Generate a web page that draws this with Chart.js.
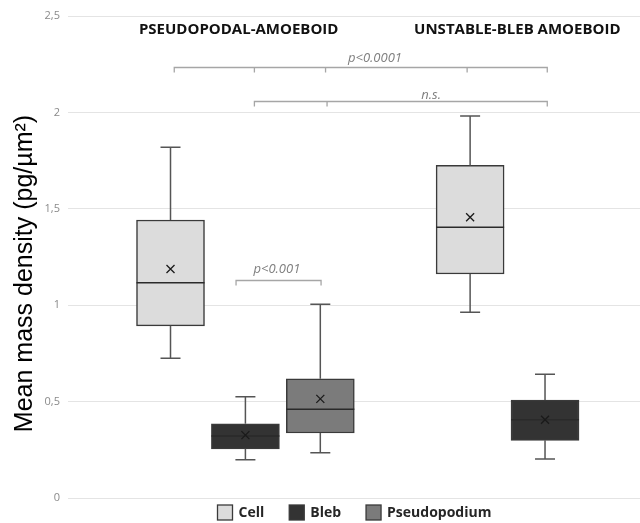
<!DOCTYPE html>
<html><head><meta charset="utf-8">
<script src="https://cdn.jsdelivr.net/npm/chart.js@4"></script>
<style>html,body{margin:0;padding:0;background:#fff}#wrap{width:640px;height:523px;position:relative}</style>
</head><body><div id="wrap"><canvas id="c"></canvas></div>
<script>
// ---- data ----
const groups = ['PSEUDOPODAL-AMOEBOID', 'UNSTABLE-BLEB AMOEBOID'];
const seriesNames = ['Cell', 'Bleb', 'Pseudopodium'];
const yTickLabels = ['0', '0,5', '1', '1,5', '2', '2,5'];
const yTitle = 'Mean mass density (pg/µm²)';
// [min, q1, median, q3, max] per group
const cellBox = [[0.725, 0.893, 1.116, 1.442, 1.819], [0.964, 1.162, 1.404, 1.725, 1.981]];
const cellMean = [1.188, 1.456];
const blebBox = [[0.198, 0.255, 0.321, 0.385, 0.525], [0.202, 0.299, 0.406, 0.508, 0.642]];
const blebMean = [0.326, 0.406];
const pseudoBox = [[0.235, 0.337, 0.460, 0.618, 1.005], null];
const pseudoMean = [0.514, null];
// significance brackets (x in slot units, y in data units)
const bracketText = ['p<0.0001', 'n.s.', 'p<0.001'];
const bracketY = [2.233, 2.057, 1.133];
const bracketFrom = [1.05, 2.12, 1.875];
const bracketTo = [6.03, 6.03, 3.01];
const bracketMid = [[2.12, 3.07, 4.96], [3.09], []];
const bracketTextX = [3.73, 4.48, 2.42];
const bracketTextY = [2.280, 2.090, 1.188];
const groupTitleX = [1.91, 5.63];
const groupTitleY = 2.427;

// ---- build ----
const SLOTS_PER_GROUP = 4;
const slot = (g, s) => g * SLOTS_PER_GROUP + s + 1;
const boxes = [cellBox, blebBox, pseudoBox];
const means = [cellMean, blebMean, pseudoMean];
const fills = ['#dcdcdc', '#333333', '#7b7b7b'];

const datasets = seriesNames.map((name, s) => ({
  label: name,
  data: groups.map((g, gi) => boxes[s][gi] ? { x: slot(gi, s), y: [boxes[s][gi][1], boxes[s][gi][3]] } : null).filter(Boolean),
  backgroundColor: fills[s],
  borderColor: '#3a3a3a',
  borderWidth: 1.5,
  borderSkipped: false,
  grouped: false,
  barThickness: 68
}));

const boxPlugin = {
  id: 'boxExtras',
  afterDatasetsDraw(chart) {
    const ctx = chart.ctx, xs = chart.scales.x, ys = chart.scales.y;
    ctx.save();
    boxes.forEach((b, s) => {
      b.forEach((v, gi) => {
        if (!v) return;
        const cx = xs.getPixelForValue(slot(gi, s));
        const half = 34, cap = 10;
        const py = k => ys.getPixelForValue(v[k]);
        ctx.strokeStyle = '#555';
        ctx.lineWidth = 1.5;
        ctx.beginPath();
        ctx.moveTo(cx, py(3)); ctx.lineTo(cx, py(4));
        ctx.moveTo(cx - cap, py(4)); ctx.lineTo(cx + cap, py(4));
        ctx.moveTo(cx, py(1)); ctx.lineTo(cx, py(0));
        ctx.moveTo(cx - cap, py(0)); ctx.lineTo(cx + cap, py(0));
        ctx.stroke();
        ctx.strokeStyle = '#2a2a2a';
        ctx.beginPath();
        ctx.moveTo(cx - half, py(2)); ctx.lineTo(cx + half, py(2));
        ctx.stroke();
        const m = means[s][gi];
        if (m != null) {
          const my = ys.getPixelForValue(m), r = 4;
          ctx.strokeStyle = '#1a1a1a';
          ctx.lineWidth = 1.3;
          ctx.beginPath();
          ctx.moveTo(cx - r, my - r); ctx.lineTo(cx + r, my + r);
          ctx.moveTo(cx + r, my - r); ctx.lineTo(cx - r, my + r);
          ctx.stroke();
        }
      });
    });
    // brackets
    ctx.strokeStyle = '#a6a6a6';
    ctx.lineWidth = 1.3;
    bracketText.forEach((t, i) => {
      const y = Math.round(ys.getPixelForValue(bracketY[i])) + 0.5;
      const x0 = xs.getPixelForValue(bracketFrom[i]), x1 = xs.getPixelForValue(bracketTo[i]);
      ctx.beginPath();
      ctx.moveTo(x0, y + 5); ctx.lineTo(x0, y); ctx.lineTo(x1, y); ctx.lineTo(x1, y + 5);
      bracketMid[i].forEach(mx => { const px = xs.getPixelForValue(mx); ctx.moveTo(px, y); ctx.lineTo(px, y + 5); });
      ctx.stroke();
      ctx.fillStyle = '#7f7f7f';
      ctx.font = 'italic 13px "Open Sans"';
      ctx.textAlign = 'center';
      ctx.textBaseline = 'middle';
      ctx.fillText(t, xs.getPixelForValue(bracketTextX[i]), ys.getPixelForValue(bracketTextY[i]));
    });
    // group titles
    ctx.fillStyle = '#111';
    ctx.font = 'bold 15px "Open Sans"';
    groups.forEach((g, gi) => {
      ctx.fillText(g, xs.getPixelForValue(groupTitleX[gi]), ys.getPixelForValue(groupTitleY));
    });
    // y axis title
    ctx.save();
    ctx.translate(25.5, 273.5);
    ctx.rotate(-Math.PI / 2);
    ctx.fillStyle = '#000';
    ctx.font = '25px "Liberation Sans"';
    ctx.fillText(yTitle, 0, 0);
    ctx.restore();
    // legend
    ctx.font = 'bold 14px "Open Sans"';
    const box = 15, gapText = 6, gapItem = 25;
    const widths = chart.data.datasets.map(d => box + gapText + ctx.measureText(d.label).width);
    const total = widths.reduce((a, b) => a + b, 0) + gapItem * (widths.length - 1);
    let x = Math.round((chart.chartArea.left + chart.chartArea.right) / 2 - total / 2) + 0.5;
    const yc = 512.5;
    ctx.textAlign = 'left';
    chart.data.datasets.forEach((d, i) => {
      ctx.fillStyle = d.backgroundColor;
      ctx.fillRect(x, yc - box / 2, box, box);
      ctx.strokeStyle = '#3a3a3a';
      ctx.lineWidth = 1.3;
      ctx.strokeRect(x, yc - box / 2, box, box);
      ctx.fillStyle = '#262626';
      ctx.fillText(d.label, x + box + gapText, yc + 1);
      x += widths[i] + gapItem;
    });
    ctx.restore();
  }
};

new Chart(document.getElementById('c'), {
  type: 'bar',
  data: { datasets },
  options: {
    responsive: true,
    maintainAspectRatio: false,
    animation: false,
    layout: { padding: { top: 16, bottom: 25, left: 0, right: 0 } },
    plugins: { legend: { display: false }, tooltip: { enabled: false } },
    scales: {
      x: { type: 'linear', display: false, offset: false, min: -0.3685, max: 7.268 },
      y: {
        min: 0, max: 2.5,
        ticks: { stepSize: 0.5, padding: 8, color: '#8a8a8a', font: { family: 'Open Sans', size: 11 },
          callback: (v, i) => yTickLabels[i] },
        grid: { color: '#e4e4e4', drawTicks: false, lineWidth: 1 },
        border: { display: false },
        title: { display: false },
        afterFit: s => { s.width = 68; }
      }
    }
  },
  plugins: [boxPlugin]
});
</script></body></html>
